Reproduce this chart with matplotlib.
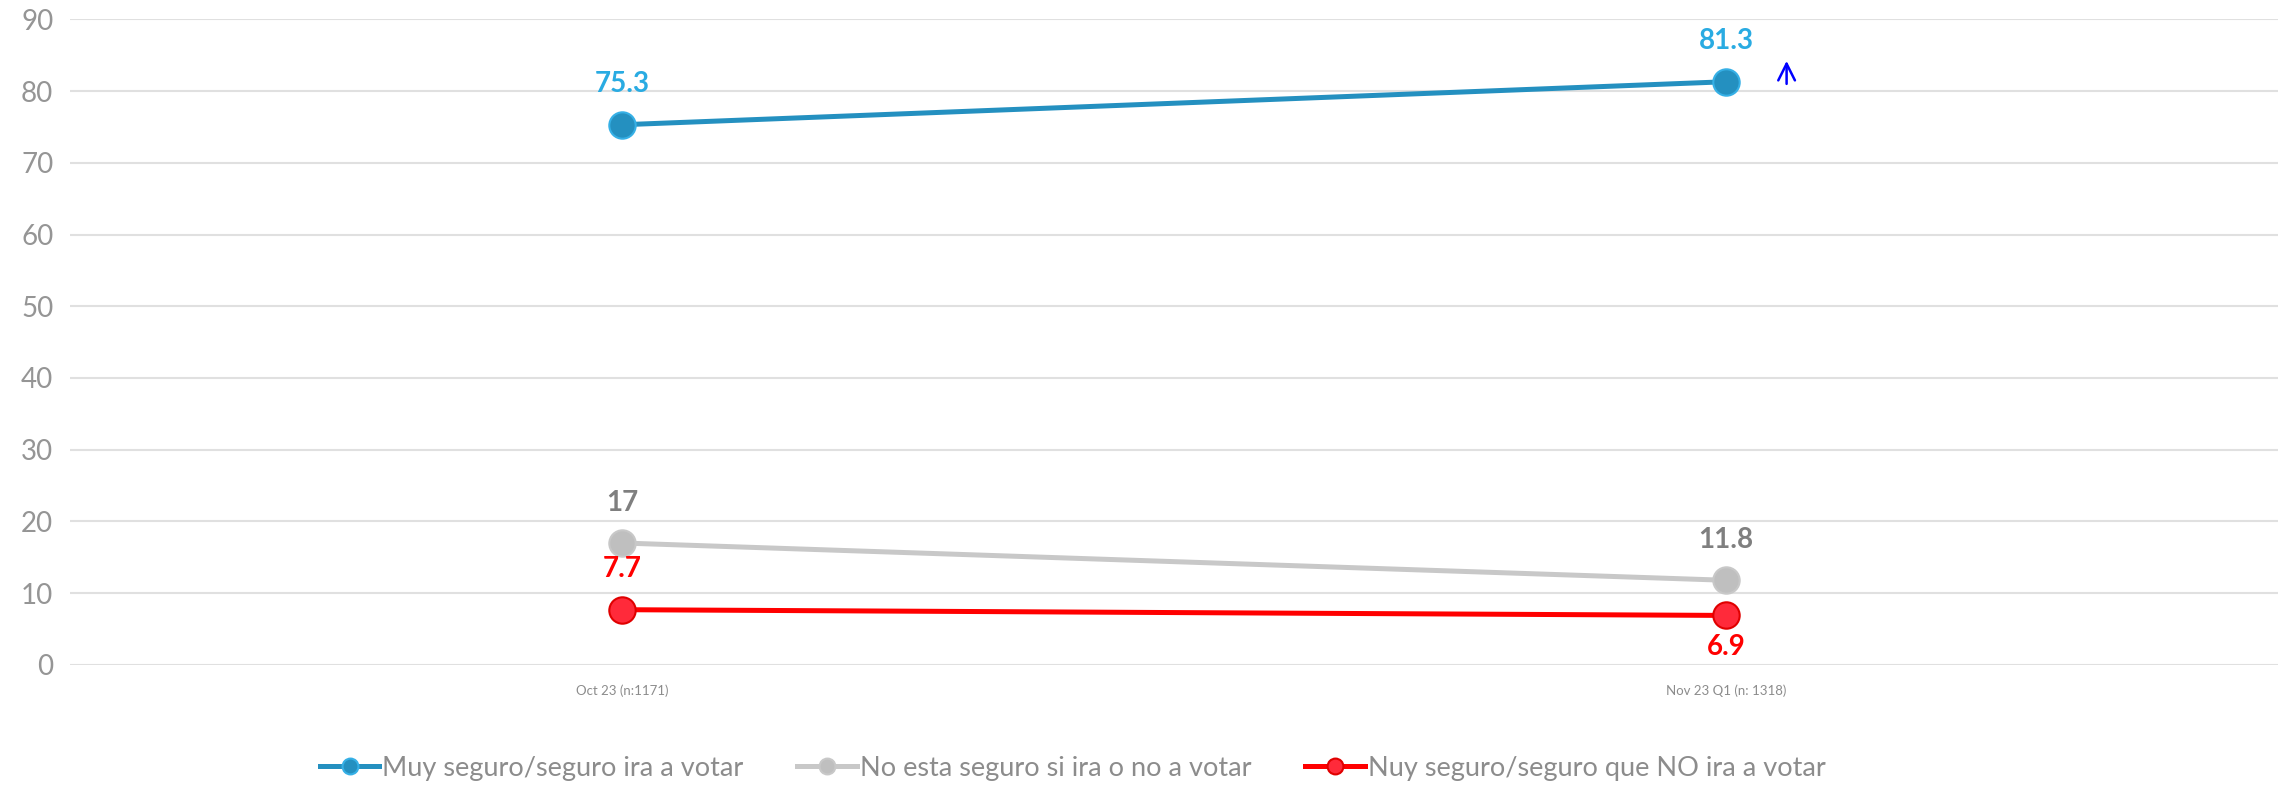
import matplotlib
matplotlib.use("Agg")
import matplotlib.pyplot as plt

categories = ["Oct 23 (n:1171)", "Nov 23 Q1 (n: 1318)"]
series_names = ["Muy seguro/seguro ira a votar",
                "No esta seguro si ira o no a votar",
                "Nuy seguro/seguro que NO ira a votar"]
muy_seguro = [75.3, 81.3]
no_esta = [17, 11.8]
nuy_no = [7.7, 6.9]
y_ticks = [0, 10, 20, 30, 40, 50, 60, 70, 80, 90]

plt.rcParams['font.family'] = ['Lato', 'DejaVu Sans']

fig = plt.figure(figsize=(22.87, 8.05), dpi=100)
ax = fig.add_axes([0.0306, 0.174, 0.9654, 0.802])

x = list(range(len(categories)))

styles = [
    dict(color="#2490C0", mfc="#2490C0", mec="#36B0E6", lbl="#29ABE2", off=[(0, 29), (0, 29)]),
    dict(color="#C8C8C8", mfc="#BFBFBF", mec="#C8C8C8", lbl="#7F7F7F", off=[(0, 29), (0, 29)]),
    dict(color="#FF0000", mfc="#FF2A3A", mec="#E00000", lbl="#FF0000", off=[(0, 29), (0, -23)]),
]
for name, vals, st in zip(series_names, [muy_seguro, no_esta, nuy_no], styles):
    ax.plot(x, vals, color=st["color"], lw=3.6, marker="o", ms=19,
            mfc=st["mfc"], mec=st["mec"], mew=1.5, label=name, zorder=3)
    for xi, v, (dx, dy) in zip(x, vals, st["off"]):
        txt = f"{v:g}"
        ax.annotate(txt, (xi, v), xytext=(dx, dy), textcoords="offset points",
                    ha="center", va="center", fontsize=20, fontweight="bold",
                    color=st["lbl"], zorder=4)

# small blue arrow
ax.annotate("", xy=(1.055, 84.2), xytext=(1.055, 81.0),
            arrowprops=dict(arrowstyle="->", color="#0000FF", lw=1.8,
                            mutation_scale=30, shrinkA=0, shrinkB=0))

ax.set_xlim(-0.5, 1.5)
ax.set_ylim(0, 90)
ax.set_yticks(y_ticks)
ax.set_xticks(x)
ax.set_xticklabels(categories, fontsize=9.5, color="#8C8C8C")
ax.tick_params(axis="y", labelsize=20, labelcolor="#959595", length=0, pad=12)
ax.tick_params(axis="x", length=0, pad=14)
ax.grid(axis="y", color="#E0E0E0", lw=1.5)
ax.set_axisbelow(True)
for s in ax.spines.values():
    s.set_visible(False)

leg = fig.legend(loc="lower center", bbox_to_anchor=(0.469, 0.0), ncol=3,
                 frameon=False, fontsize=19.5, handlelength=2.2,
                 handletextpad=0.1, columnspacing=2.0, markerscale=0.6,
                 labelcolor="#8C8C8C")

fig.savefig("out.png", dpi=100)
